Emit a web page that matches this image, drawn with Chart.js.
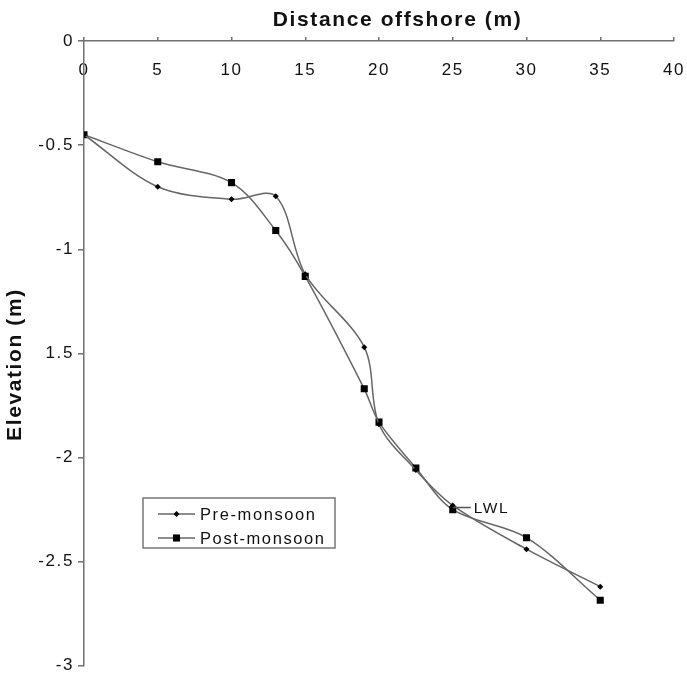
<!DOCTYPE html>
<html>
<head>
<meta charset="utf-8">
<script src="https://cdn.jsdelivr.net/npm/chart.js@4/dist/chart.umd.min.js"></script>
<style>
  html, body { margin: 0; padding: 0; background: #ffffff; }
  #wrap { position: relative; width: 687px; height: 680px; }
</style>
</head>
<body>
<div id="wrap"><canvas id="c" width="687" height="680"></canvas></div>
<script>
// ---- data ----
const distance    = [0, 5, 10, 13, 15, 19, 20, 22.5, 25, 30, 35];
const preMonsoon  = [-0.45, -0.70, -0.76, -0.745, -1.12, -1.47, -1.84, -2.06, -2.23, -2.44, -2.62];
const postMonsoon = [-0.45, -0.58, -0.68, -0.91, -1.13, -1.67, -1.83, -2.05, -2.25, -2.385, -2.685];
const seriesNames = ['Pre-monsoon', 'Post-monsoon'];
const xTickValues = [0, 5, 10, 15, 20, 25, 30, 35, 40];
const yTickValues = [0, -0.5, -1, -1.5, -2, -2.5, -3];
const yTickLabels = ['0', '-0.5', '-1', '1.5', '-2', '-2.5', '-3'];
const xTitle = 'Distance offshore (m)';
const yTitle = 'Elevation (m)';
const lwlLabel = 'LWL';
const lwlAnchor = { x: 25, y: -2.24 };

const FONT = '"Liberation Sans", Arial, sans-serif';
const LINE = '#666666';
const AXIS = '#707070';
const TEXT = '#111111';

function pts(xs, ys) { return xs.map((x, i) => ({ x: x, y: ys[i] })); }

const spacingPlugin = {
  id: 'spacing',
  beforeLayout(chart) { chart.ctx.letterSpacing = '1.6px'; },
  beforeDraw(chart) { chart.ctx.letterSpacing = '1.6px'; }
};

function drawMarker(ctx, style, x, y, r) {
  ctx.beginPath();
  if (style === 'rectRot') {
    ctx.moveTo(x - r, y); ctx.lineTo(x, y - r); ctx.lineTo(x + r, y); ctx.lineTo(x, y + r);
  } else {
    const s = r * Math.SQRT1_2;
    ctx.rect(x - s, y - s, 2 * s, 2 * s);
  }
  ctx.closePath();
  ctx.fillStyle = '#000';
  ctx.fill();
}

const legendPlugin = {
  id: 'boxLegend',
  afterDatasetsDraw(chart) {
    const ctx = chart.ctx;
    const bx = 143, by = 498, bw = 192, bh = 50;
    ctx.save();
    ctx.fillStyle = '#fff';
    ctx.fillRect(bx, by, bw, bh);
    ctx.strokeStyle = '#777';
    ctx.lineWidth = 1.5;
    ctx.strokeRect(bx, by, bw, bh);
    chart.data.datasets.forEach((ds, i) => {
      const yy = by + 16 + i * 24;
      ctx.strokeStyle = LINE;
      ctx.lineWidth = 1.5;
      ctx.beginPath(); ctx.moveTo(158, yy); ctx.lineTo(195, yy); ctx.stroke();
      drawMarker(ctx, ds.pointStyle, 176.5, yy, ds.pointRadius);
      ctx.fillStyle = TEXT;
      ctx.font = '16.5px ' + FONT;
      ctx.textAlign = 'left';
      ctx.textBaseline = 'middle';
      ctx.fillText(ds.label, 200, yy + 1);
    });
    ctx.restore();
  }
};

const lwlPlugin = {
  id: 'lwl',
  afterDatasetsDraw(chart) {
    const ctx = chart.ctx;
    const px = chart.scales.x.getPixelForValue(lwlAnchor.x);
    const py = chart.scales.y.getPixelForValue(lwlAnchor.y);
    ctx.save();
    ctx.strokeStyle = '#555';
    ctx.lineWidth = 1.5;
    ctx.beginPath(); ctx.moveTo(px, py); ctx.lineTo(px + 18, py); ctx.stroke();
    ctx.fillStyle = TEXT;
    ctx.font = '15.5px ' + FONT;
    ctx.textAlign = 'left';
    ctx.textBaseline = 'middle';
    ctx.fillText(lwlLabel, px + 21, py + 1);
    ctx.restore();
  }
};

new Chart(document.getElementById('c'), {
  type: 'line',
  data: {
    datasets: [
      {
        label: seriesNames[0],
        data: pts(distance, preMonsoon),
        borderColor: LINE, borderWidth: 1.5,
        pointStyle: 'rectRot', pointRadius: 3,
        pointBackgroundColor: '#000', pointBorderColor: '#000', pointBorderWidth: 0,
        tension: 0.33, fill: false
      },
      {
        label: seriesNames[1],
        data: pts(distance, postMonsoon),
        borderColor: LINE, borderWidth: 1.5,
        pointStyle: 'rect', pointRadius: 5,
        pointBackgroundColor: '#000', pointBorderColor: '#000', pointBorderWidth: 0,
        tension: 0.33, fill: false
      }
    ]
  },
  options: {
    responsive: false,
    animation: false,
    layout: { padding: { top: 0, left: 0, right: 13, bottom: 10 } },
    plugins: { legend: { display: false }, tooltip: { enabled: false } },
    scales: {
      x: {
        type: 'linear', position: 'top', min: 0, max: 40,
        afterBuildTicks(s) { s.ticks = xTickValues.map(v => ({ value: v })); },
        afterFit(s) { s.height = 41; s.paddingLeft = 0; s.paddingRight = 0; },
        grid: { drawOnChartArea: false, drawTicks: true, tickLength: 4, color: AXIS, lineWidth: 1.5 },
        border: { display: true, color: AXIS, width: 1.5 },
        ticks: { mirror: true, padding: 19, color: TEXT, font: { family: FONT, size: 17 }, maxRotation: 0, autoSkip: false },
        title: { display: true, text: '     ' + xTitle, color: TEXT, font: { family: FONT, size: 21, weight: 'bold' }, padding: { top: 8, bottom: 0 } }
      },
      y: {
        type: 'linear', position: 'left', min: -3, max: 0,
        afterBuildTicks(s) { s.ticks = yTickValues.map(v => ({ value: v })); },
        afterFit(s) { s.width = 84; },
        grid: { drawOnChartArea: false, drawTicks: true, tickLength: 6, color: AXIS, lineWidth: 1.5 },
        border: { display: true, color: AXIS, width: 1.5 },
        ticks: {
          padding: 4, color: TEXT, font: { family: FONT, size: 17 }, autoSkip: false,
          callback(v) { const i = yTickValues.indexOf(v); return i >= 0 ? yTickLabels[i] : ''; }
        },
        title: { display: true, text: yTitle + '   ', color: TEXT, font: { family: FONT, size: 21, weight: 'bold' }, padding: { top: 3, bottom: 0 } }
      }
    }
  },
  plugins: [spacingPlugin, legendPlugin, lwlPlugin]
});
</script>
</body>
</html>
